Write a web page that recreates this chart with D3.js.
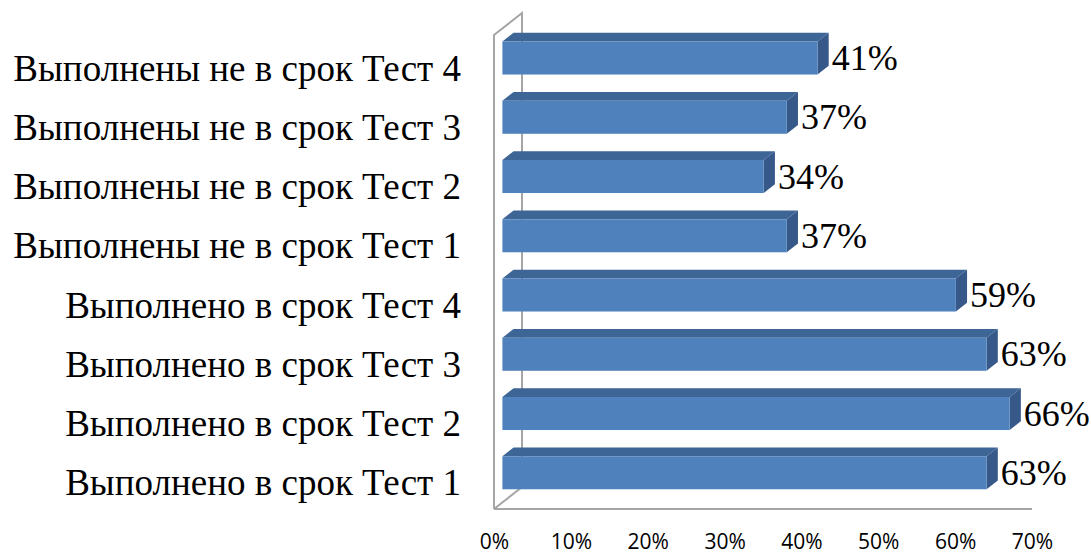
<!DOCTYPE html>
<html><head><meta charset="utf-8">
<script src="https://cdn.jsdelivr.net/npm/d3@7"></script>
<style>body{margin:0;background:#fff}svg{display:block}</style>
</head><body>
<svg id="c" width="1091" height="555"></svg>
<script>
const categories = ["Выполнено в срок Тест 1","Выполнено в срок Тест 2","Выполнено в срок Тест 3","Выполнено в срок Тест 4",
  "Выполнены не в срок Тест 1","Выполнены не в срок Тест 2","Выполнены не в срок Тест 3","Выполнены не в срок Тест 4"];
const values = [0.63, 0.66, 0.63, 0.59, 0.37, 0.34, 0.37, 0.41];
const tickValues = [0, 0.1, 0.2, 0.3, 0.4, 0.5, 0.6, 0.7];

(function(){
const svg = d3.select("#c");
const pL = 494, pR = 1032, pT = 35, pB = 509;
const DX = 28, DY = -22; // depth vector
const f0 = 0.3, f1 = 0.7; // bar depth span
const x = d3.scaleLinear().domain([0, 0.7]).range([pL, pR]);
const y = d3.scaleBand().domain(categories.slice().reverse()).range([pT, pB]).paddingInner(0.443).paddingOuter(0.2215);

const wall = "#A5A5A5";
const g0 = svg.append("g").attr("fill","none").attr("stroke",wall).attr("stroke-width",2);
g0.append("path").attr("d", `M${pL},${pB}L${pL},${pT}L${pL+DX},${pT+DY}L${pL+DX},${pB+DY}L${pL},${pB}`);
g0.append("path").attr("d", `M${pL},${pB}L${pR},${pB}`);

const data = categories.map((c,i)=>({c, v: values[i]}));
const bars = svg.append("g");
data.forEach(d=>{
  const y0 = y(d.c), h = y.bandwidth();
  const ox0 = DX*f0, oy0 = DY*f0, ox1 = DX*f1, oy1 = DY*f1;
  const xl = x(0), xr = x(d.v);
  const g = bars.append("g");
  g.append("path").attr("fill","#3D6596")
    .attr("d", `M${xl+ox0},${y0+oy0}L${xr+ox0},${y0+oy0}L${xr+ox1},${y0+oy1}L${xl+ox1},${y0+oy1}Z`);
  g.append("path").attr("fill","#36598A")
    .attr("d", `M${xr+ox0},${y0+oy0}L${xr+ox1},${y0+oy1}L${xr+ox1},${y0+h+oy1}L${xr+ox0},${y0+h+oy0}Z`);
  g.append("rect").attr("fill","#4F81BD")
    .attr("x", xl+ox0).attr("y", y0+oy0).attr("width", xr-xl).attr("height", h);
  g.append("text").attr("x", xr+ox1+3).attr("y", y0+oy0+h/2+12)
    .attr("font-family","'Liberation Serif','Times New Roman',serif").attr("font-size",36).attr("fill","#000")
    .text(d3.format(".0%")(d.v));
});

svg.append("g").selectAll("text").data(categories).join("text")
  .attr("x", 461).attr("y", d=>y(d)+y.bandwidth()/2+16)
  .attr("text-anchor","end")
  .attr("font-family","'Liberation Serif','Times New Roman',serif").attr("font-size",37).attr("fill","#000")
  .text(d=>d);

const ax = svg.append("g").attr("transform",`translate(0,${pB})`)
  .call(d3.axisBottom(x).tickValues(tickValues).tickFormat(d3.format(".0%")).tickSize(0));
ax.select(".domain").remove();
ax.selectAll("text").attr("y", 40).attr("dy", 0)
  .attr("font-family","'Open Sans',sans-serif").attr("font-size",21).attr("fill","#000");
})();
</script>
</body></html>
